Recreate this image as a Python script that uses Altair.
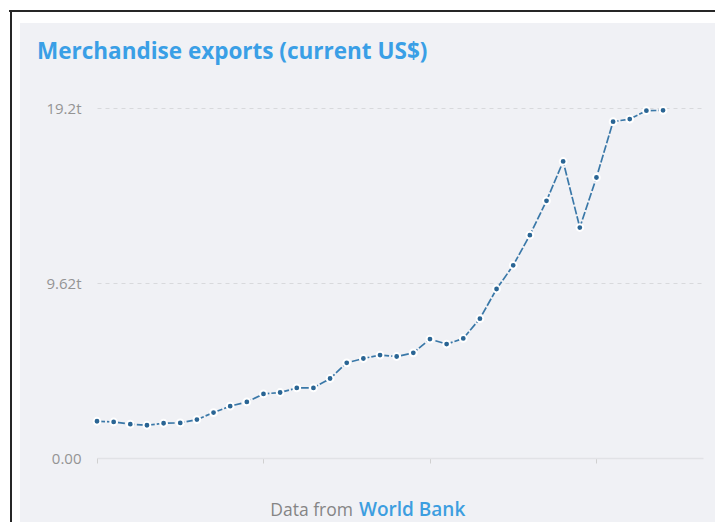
import altair as alt
import pandas as pd

years = [1980, 1981, 1982, 1983, 1984, 1985, 1986, 1987, 1988, 1989,
         1990, 1991, 1992, 1993, 1994, 1995, 1996, 1997, 1998, 1999,
         2000, 2001, 2002, 2003, 2004, 2005, 2006, 2007, 2008, 2009,
         2010, 2011, 2012, 2013, 2014]
exports_t = [2.02, 1.98, 1.86, 1.80, 1.91, 1.93, 2.11, 2.50, 2.85, 3.08,
             3.52, 3.60, 3.85, 3.85, 4.37, 5.23, 5.47, 5.66, 5.58, 5.78,
             6.54, 6.26, 6.57, 7.66, 9.29, 10.59, 12.25, 14.14, 16.30, 12.67,
             15.42, 18.49, 18.63, 19.09, 19.11]

x_domain = [1980, 2016.4]
x_ticks = [1980, 1990, 2000, 2010]
y_domain = [0, 19.24]
y_ticks = [0, 9.62, 19.24]
y_labels = ["0.00", "9.62t", "19.2t"]

title_text = "Merchandise exports (current US$)"
footer_prefix = "Data from"
footer_source = "World Bank"

df = pd.DataFrame({"year": years, "value": exports_t})

label_expr = "''"
for v, l in reversed(list(zip(y_ticks, y_labels))):
    label_expr = f"abs(datum.value - {v}) < 0.01 ? '{l}' : {label_expr}"

PANEL = "#f0f1f5"
LINE = "#3a78a8"
DOT = "#2a6594"

x_enc = alt.X("year:Q", scale=alt.Scale(domain=x_domain, nice=False, zero=False),
              axis=alt.Axis(values=x_ticks, labels=False, title=None, grid=False,
                            domainColor="#e1e2e6", domainWidth=1.5,
                            tickColor="#d0d0d0", tickSize=5))
y_enc = alt.Y("value:Q", scale=alt.Scale(domain=y_domain, nice=False),
              axis=alt.Axis(values=y_ticks, labelExpr=label_expr, title=None,
                            domain=False, ticks=False, gridDash=[4, 4],
                            gridColor="#d8d9dc", labelColor="#949494",
                            labelFontSize=15, labelFont="Open Sans",
                            labelPadding=16))

base = alt.Chart(df)
line = base.mark_line(color=LINE, strokeWidth=1.7, strokeDash=[8, 2]).encode(x=x_enc, y=y_enc)
points = base.mark_point(filled=True, fill=DOT, stroke="white", strokeWidth=2,
                         size=46, opacity=1).encode(x=x_enc, y=y_enc)

one = alt.Data(values=[{"k": 1}])


def strip(x1, x2, y1, y2):
    return alt.Chart(one).mark_rect(color="white").encode(
        x=alt.value(x1), x2=alt.value(x2), y=alt.value(y1), y2=alt.value(y2))


strips = [strip(-89, 720, -100, -85), strip(-89, -77, -100, 520),
          strip(623, 720, -100, 520), strip(-89, 720, 414, 520)]
frame_top = alt.Chart(one).mark_rule(color="#262626", strokeWidth=2).encode(
    x=alt.value(-88), x2=alt.value(720), y=alt.value(-97))
frame_left = alt.Chart(one).mark_rule(color="#262626", strokeWidth=2).encode(
    x=alt.value(-86), y=alt.value(-98), y2=alt.value(520))

title = alt.Chart(one).mark_text(
    text=title_text, align="left", baseline="alphabetic", font="Open Sans",
    fontSize=22.5, fontWeight="bold", color="#3a9fe6").encode(
    x=alt.value(-60), y=alt.value(-49))
foot1 = alt.Chart(one).mark_text(
    text=footer_prefix, align="right", baseline="alphabetic", font="Open Sans",
    fontSize=17.5, color="#858585").encode(x=alt.value(256), y=alt.value(408))
foot2 = alt.Chart(one).mark_text(
    text=footer_source, align="left", baseline="alphabetic", font="Open Sans",
    fontSize=19, fontWeight=600, color="#3d9ee0").encode(x=alt.value(262), y=alt.value(408))

chart = alt.layer(*strips, frame_top, frame_left, line, points, title, foot1, foot2).properties(
    width=606, height=350,
    autosize=alt.AutoSizeParams(type="none"),
    padding={"left": 89, "top": 100, "right": 12, "bottom": 64},
    background=PANEL,
).configure_view(stroke=None)

chart.save("out.html", embed_options={"renderer": "svg", "actions": False})
